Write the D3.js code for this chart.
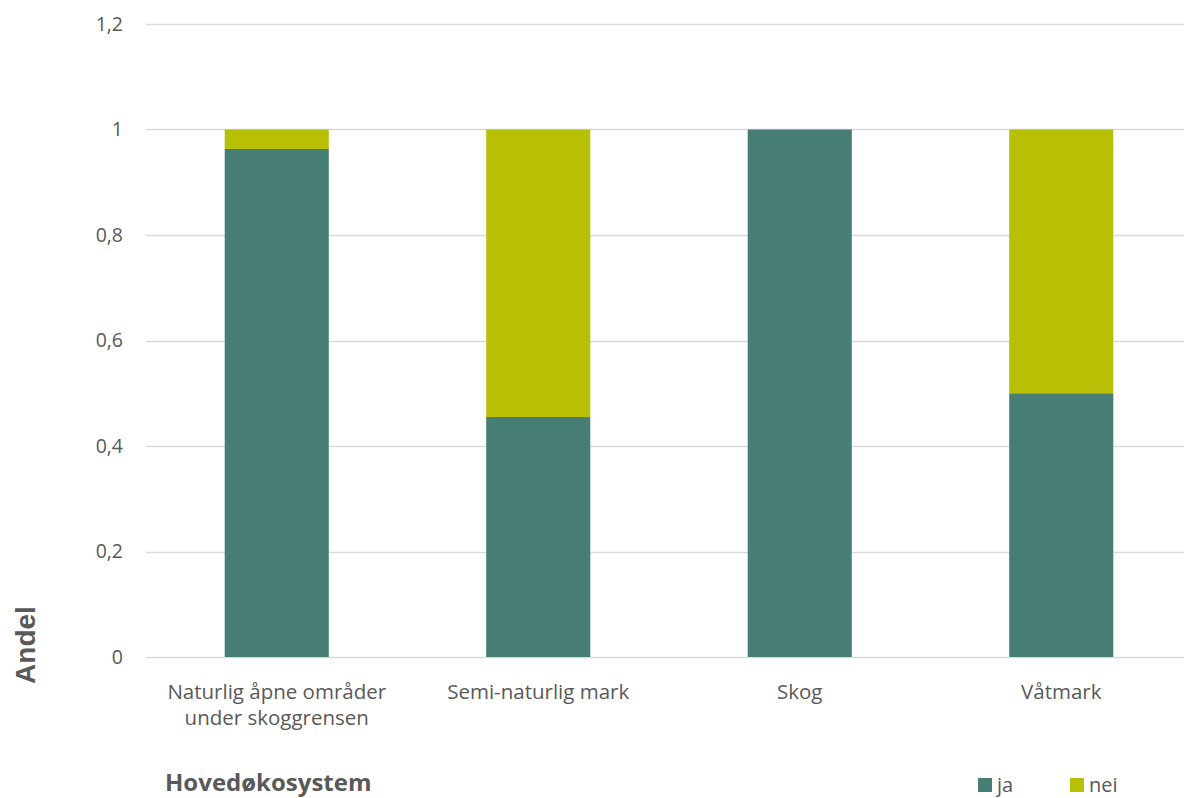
<!DOCTYPE html>
<html>
<head>
<meta charset="utf-8">
<script src="https://cdn.jsdelivr.net/npm/d3@7"></script>
<style>
  html, body { margin: 0; padding: 0; background: #ffffff; }
  svg { display: block; font-family: "Open Sans", sans-serif; }
</style>
</head>
<body>
<svg id="chart" width="1184" height="798"></svg>
<script>
const categories = [
  ["Naturlig åpne områder", "under skoggrensen"],
  ["Semi-naturlig mark"],
  ["Skog"],
  ["Våtmark"]
];
const categoryKeys = ["Naturlig åpne områder under skoggrensen", "Semi-naturlig mark", "Skog", "Våtmark"];
const seriesNames = ["ja", "nei"];
const jaValues = [0.963, 0.455, 1.0, 0.5];
const neiValues = [0.037, 0.545, 0.0, 0.5];
const yTicks = [0, 0.2, 0.4, 0.6, 0.8, 1.0, 1.2];
const yTickLabels = ["0", "0,2", "0,4", "0,6", "0,8", "1", "1,2"];
const colors = { ja: "#467D74", nei: "#B8C006" };

const svg = d3.select("#chart");
const textColor = "#595959";

const x = d3.scaleBand()
  .domain(categoryKeys)
  .range([146, 1192])
  .paddingInner(0.602)
  .paddingOuter(0.301);

const y = d3.scaleLinear().domain([0, 1.2]).range([657, 24]);

// gridlines
svg.append("g").selectAll("line")
  .data(yTicks)
  .join("line")
  .attr("x1", 146).attr("x2", 1192)
  .attr("y1", d => Math.round(y(d)) + 0.5)
  .attr("y2", d => Math.round(y(d)) + 0.5)
  .attr("stroke", "#d9d9d9")
  .attr("stroke-width", 1.3);

// y tick labels
svg.append("g").selectAll("text")
  .data(yTicks)
  .join("text")
  .attr("x", 123)
  .attr("y", d => y(d))
  .attr("dy", "0.35em")
  .attr("text-anchor", "end")
  .attr("fill", textColor)
  .attr("font-size", 19.5)
  .text((d, i) => yTickLabels[i]);

// stacked bars
const rows = categoryKeys.map((k, i) => ({ key: k, ja: jaValues[i], nei: neiValues[i] }));
const stack = d3.stack().keys(seriesNames)(rows);

svg.append("g").selectAll("g")
  .data(stack)
  .join("g")
  .attr("fill", d => colors[d.key])
  .selectAll("rect")
  .data(d => d)
  .join("rect")
  .attr("x", d => x(d.data.key))
  .attr("width", x.bandwidth())
  .attr("y", d => y(d[1]))
  .attr("height", d => Math.max(0, y(d[0]) - y(d[1])));

// x tick labels
const xl = svg.append("g").selectAll("text")
  .data(categoryKeys)
  .join("text")
  .attr("text-anchor", "middle")
  .attr("fill", textColor)
  .attr("font-size", 20.5)
  .attr("y", 699);
xl.each(function(d, i) {
  const t = d3.select(this);
  categories[i].forEach((line, j) => {
    t.append("tspan")
      .attr("x", x(d) + x.bandwidth() / 2)
      .attr("dy", j === 0 ? 0 : 26)
      .text(line);
  });
});

// axis titles
svg.append("text")
  .attr("transform", "translate(35,645) rotate(-90)")
  .attr("text-anchor", "middle")
  .attr("fill", textColor)
  .attr("font-size", 28)
  .attr("font-family", "'Liberation Sans', Arial, sans-serif")
  .attr("font-weight", "bold")
  .text("Andel");

svg.append("text")
  .attr("x", 165)
  .attr("y", 791)
  .attr("fill", textColor)
  .attr("font-size", 24)
  .attr("font-weight", "bold")
  .text("Hovedøkosystem");

// legend
const legendX = [978, 1070];
const lg = svg.append("g").selectAll("g")
  .data(seriesNames)
  .join("g")
  .attr("transform", (d, i) => `translate(${legendX[i]},778)`);
lg.append("rect").attr("width", 14).attr("height", 14).attr("fill", d => colors[d]);
lg.append("text")
  .attr("x", 19).attr("y", 14)
  .attr("fill", textColor)
  .attr("font-size", 20)
  .text(d => d);
</script>
</body>
</html>
